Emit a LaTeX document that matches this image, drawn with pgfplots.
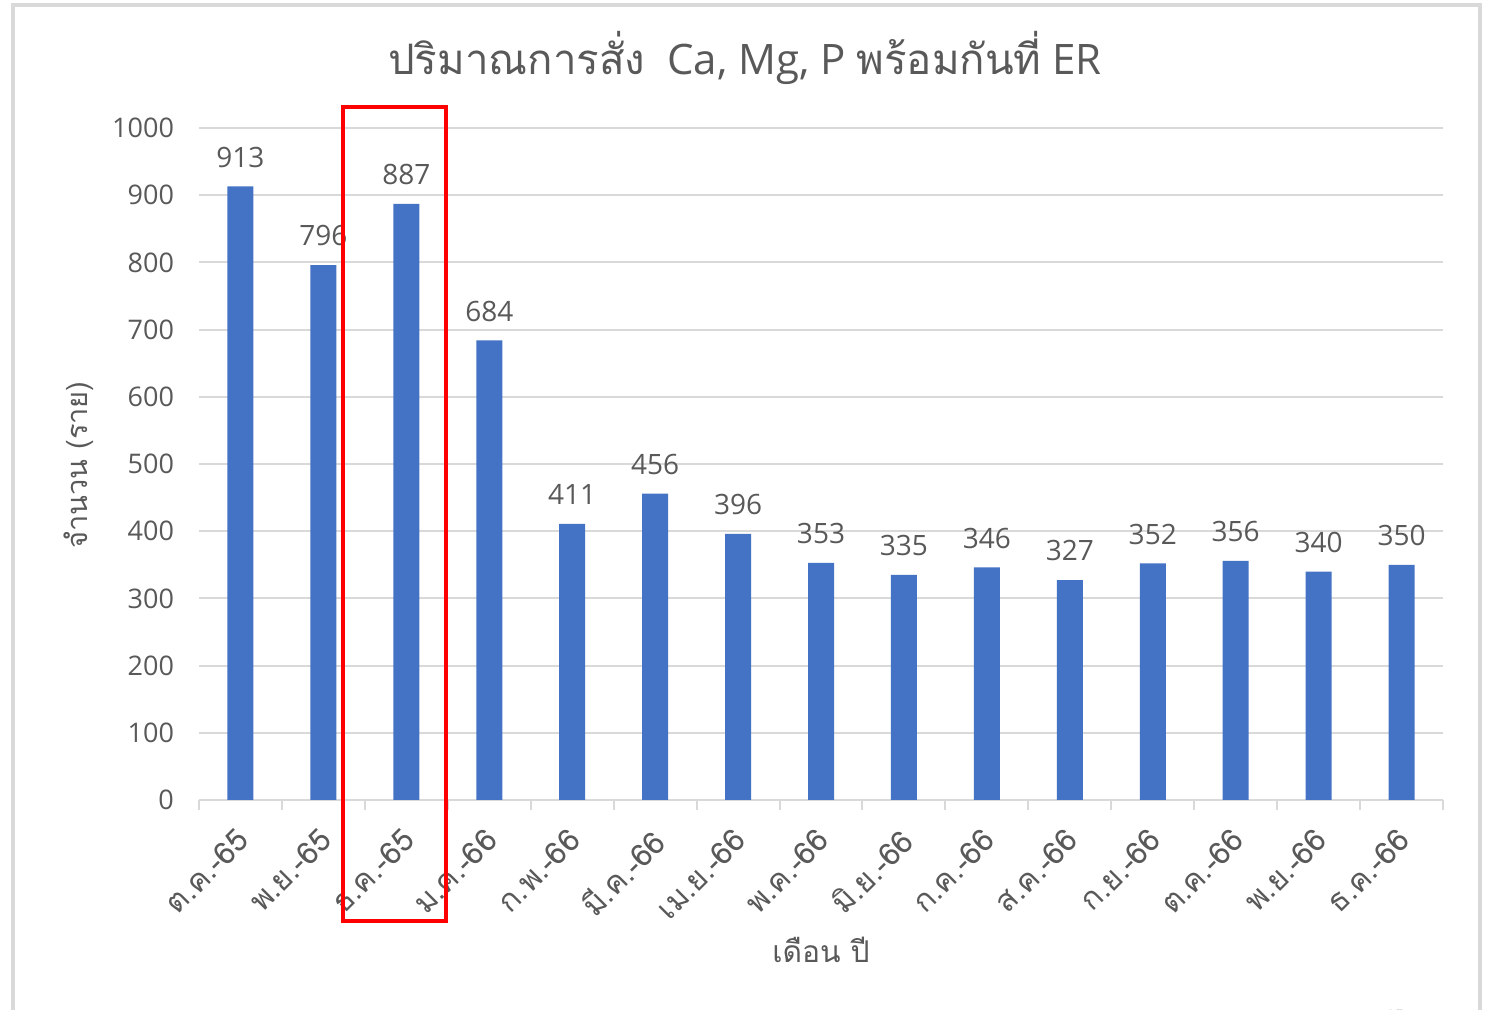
\documentclass[border=0pt]{standalone}
\usepackage{fontspec}
\setmainfont{Open Sans}
\newfontfamily\thai[Script=Thai]{Loma}
\usepackage{pgfplots}
\pgfplotsset{compat=1.18}
\definecolor{barblue}{HTML}{4472C4}
\definecolor{txt}{HTML}{595959}
\definecolor{gridc}{HTML}{D9D9D9}
\begin{document}
\begin{tikzpicture}
\path[use as bounding box] (0,0) rectangle (745.5pt,505pt);
\fill[white] (0,0) rectangle (745.5pt,505pt);
\draw[draw=gridc, line width=1.6pt] (6.5pt,-5pt) -- (6.5pt,502.5pt) -- (740pt,502.5pt) -- (740pt,-5pt);
\begin{axis}[
  at={(99.5pt,105pt)}, anchor=south west,
  scale only axis, width=622pt, height=336pt,
  /pgf/number format/assume math mode=true,
  /pgf/number format/1000 sep={},
  ymin=0, ymax=1000, ytick={0,100,...,1000},
  xmin=-0.5, xmax=14.5,
  xtick={0,...,14},
  xticklabels={ต.ค.-65,พ.ย.-65,ธ.ค.-65,ม.ค.-66,ก.พ.-66,มี.ค.-66,เม.ย.-66,พ.ค.-66,มิ.ย.-66,ก.ค.-66,ส.ค.-66,ก.ย.-66,ต.ค.-66,พ.ย.-66,ธ.ค.-66},
  minor xtick={-0.5,0.5,...,14.5},
  major tick length=0pt,
  minor tick length=5pt,
  tick align=outside,
  axis lines*=left,
  y axis line style={draw=none},
  x axis line style={draw=gridc, line width=1pt},
  ytick style={draw=none},
  xtick style={draw=gridc, line width=1pt},
  ymajorgrids, grid style={draw=gridc, line width=1pt},
  yticklabel style={font=\fontsize{13.5}{15}\selectfont, text=txt, xshift=-9pt},
  xticklabel style={rotate=45, anchor=north east, font=\thai\fontsize{15.5}{17}\selectfont, text=txt, xshift=-8pt, yshift=-4pt},
  ylabel={จำนวน (ราย)},
  ylabel style={font=\thai\fontsize{14.5}{16}\selectfont, text=txt, at={(rel axis cs:-0.097,0.4985)}, anchor=center},
  xlabel={เดือน ปี},
  xlabel style={font=\thai\fontsize{15}{17}\selectfont, text=txt, at={(rel axis cs:0.5,-0.223)}, anchor=center},
  title={{\thai ปริมาณการสั่ง}\ \ Ca, Mg, P {\thai พร้อมกันที่} ER},
  title style={font=\fontsize{21}{24}\selectfont, text=txt, at={(rel axis cs:0.439,1.086)}, anchor=center},
  ybar, bar width=13pt,
  nodes near coords,
  every node near coord/.append style={font=\fontsize{14}{16}\selectfont, text=txt, yshift=6pt},
]
\addplot[ybar, bar shift=0pt, fill=barblue, draw=none] coordinates {
(0,913) (1,796) (2,887) (3,684) (4,411) (5,456) (6,396) (7,353) (8,335) (9,346) (10,327) (11,352) (12,356) (13,340) (14,350)};
\end{axis}
\draw[red, line width=2pt] (171.5pt,44.5pt) rectangle (223pt,451.5pt);
\node[anchor=north, font=\fontsize{8}{9}\selectfont, text=gray!60] at (697.5pt,3.5pt) {15};
\end{tikzpicture}
\end{document}
